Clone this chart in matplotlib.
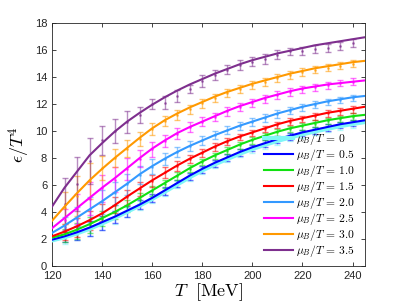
import matplotlib
matplotlib.use("Agg")
import matplotlib.pyplot as plt
import numpy as np

plt.rcParams["mathtext.fontset"] = "cm"
plt.rcParams["font.family"] = ["Liberation Sans", "DejaVu Sans"]

# fitted curves, sampled every 5 MeV
T_fit = np.arange(120, 250, 5)
fit = {
    "0":   [1.90, 2.13, 2.42, 2.76, 3.15, 3.57, 4.02, 4.48, 4.97, 5.50, 6.04, 6.58, 7.08, 7.53, 7.93, 8.32, 8.67, 8.98, 9.27, 9.52, 9.76, 9.97, 10.17, 10.36, 10.52, 10.67],
    "0.5": [1.95, 2.20, 2.50, 2.85, 3.25, 3.65, 4.10, 4.55, 5.05, 5.60, 6.15, 6.70, 7.20, 7.65, 8.05, 8.45, 8.80, 9.10, 9.40, 9.65, 9.90, 10.10, 10.30, 10.50, 10.65, 10.80],
    "1.0": [2.10, 2.35, 2.70, 3.10, 3.55, 4.00, 4.50, 5.05, 5.60, 6.15, 6.70, 7.25, 7.75, 8.20, 8.60, 9.00, 9.35, 9.65, 9.95, 10.20, 10.40, 10.60, 10.80, 10.95, 11.10, 11.20],
    "1.5": [2.20, 2.55, 2.95, 3.40, 3.90, 4.50, 5.15, 5.75, 6.35, 6.90, 7.45, 7.95, 8.40, 8.85, 9.25, 9.60, 9.90, 10.20, 10.50, 10.75, 10.95, 11.15, 11.35, 11.50, 11.65, 11.80],
    "2.0": [2.45, 3.00, 3.60, 4.20, 4.80, 5.45, 6.10, 6.80, 7.40, 7.95, 8.45, 8.90, 9.30, 9.70, 10.05, 10.40, 10.70, 11.00, 11.30, 11.55, 11.80, 12.00, 12.20, 12.35, 12.50, 12.60],
    "2.5": [2.80, 3.55, 4.30, 5.05, 5.80, 6.50, 7.25, 8.00, 8.70, 9.30, 9.85, 10.30, 10.70, 11.10, 11.50, 11.85, 12.15, 12.45, 12.70, 12.95, 13.15, 13.30, 13.45, 13.55, 13.65, 13.75],
    "3.0": [3.35, 4.40, 5.40, 6.35, 7.20, 8.00, 8.75, 9.50, 10.20, 10.80, 11.30, 11.75, 12.15, 12.55, 12.90, 13.20, 13.50, 13.75, 14.00, 14.25, 14.45, 14.65, 14.80, 14.95, 15.10, 15.20],
    "3.5": [4.40, 5.80, 7.00, 8.20, 9.10, 9.95, 10.70, 11.35, 11.95, 12.50, 13.00, 13.45, 13.85, 14.25, 14.60, 14.95, 15.25, 15.50, 15.75, 15.95, 16.15, 16.35, 16.50, 16.65, 16.80, 16.95],
}

# lattice points with error bars
T_data = np.arange(125, 245, 5)
mean = {
    "0":   [2.10, 2.40, 2.75, 3.15, 3.60, 4.00, 4.50, 4.95, 5.50, 6.05, 6.55, 7.10, 7.50, 7.95, 8.30, 8.65, 8.95, 9.25, 9.50, 9.75, 9.95, 10.15, 10.35, 10.50],
    "0.5": [2.15, 2.45, 2.80, 3.20, 3.65, 4.05, 4.55, 5.05, 5.55, 6.10, 6.65, 7.15, 7.60, 8.05, 8.40, 8.75, 9.05, 9.35, 9.60, 9.85, 10.05, 10.25, 10.45, 10.60],
    "1.0": [2.25, 2.60, 3.05, 3.50, 4.00, 4.45, 5.00, 5.55, 6.10, 6.65, 7.20, 7.70, 8.15, 8.55, 8.95, 9.30, 9.60, 9.90, 10.15, 10.35, 10.55, 10.75, 10.90, 11.05],
    "1.5": [2.50, 2.85, 3.35, 3.95, 4.55, 5.10, 5.70, 6.30, 6.95, 7.40, 7.95, 8.35, 8.80, 9.20, 9.55, 9.85, 10.15, 10.45, 10.70, 10.90, 11.10, 11.30, 11.45, 11.60],
    "2.0": [2.90, 3.50, 4.20, 4.75, 5.40, 6.05, 6.75, 7.35, 7.95, 8.45, 8.90, 9.30, 9.70, 10.05, 10.35, 10.65, 10.95, 11.25, 11.50, 11.75, 11.95, 12.15, 12.30, 12.45],
    "2.5": [3.40, 4.20, 5.00, 5.75, 6.40, 7.20, 7.95, 8.65, 9.25, 9.80, 10.30, 10.70, 11.05, 11.45, 11.80, 12.10, 12.40, 12.65, 12.90, 13.10, 13.25, 13.40, 13.55, 13.65],
    "3.0": [4.30, 5.20, 6.30, 7.25, 8.00, 8.70, 9.40, 10.15, 10.75, 11.20, 11.60, 12.05, 12.45, 12.80, 13.10, 13.40, 13.65, 13.90, 14.15, 14.35, 14.55, 14.70, 14.85, 15.00],
    "3.5": [4.60, 6.10, 7.80, 9.30, 10.00, 10.65, 11.20, 12.00, 12.10, 12.60, 13.10, 13.70, 14.15, 14.55, 14.90, 15.15, 15.35, 15.65, 15.90, 15.90, 16.10, 16.15, 16.30, 16.50],
}
err = {
    "0":   [0.45, 0.50, 0.55, 0.50, 0.45, 0.40, 0.35, 0.30, 0.30, 0.25, 0.25, 0.25, 0.25, 0.25, 0.25, 0.25, 0.25, 0.25, 0.25, 0.25, 0.25, 0.25, 0.25, 0.25],
    "0.5": [0.40, 0.50, 0.55, 0.50, 0.45, 0.40, 0.35, 0.30, 0.30, 0.25, 0.25, 0.25, 0.25, 0.25, 0.25, 0.25, 0.25, 0.25, 0.25, 0.25, 0.25, 0.25, 0.25, 0.25],
    "1.0": [0.50, 0.60, 0.60, 0.55, 0.50, 0.45, 0.40, 0.35, 0.30, 0.30, 0.25, 0.25, 0.25, 0.25, 0.25, 0.25, 0.25, 0.25, 0.25, 0.25, 0.25, 0.25, 0.25, 0.25],
    "1.5": [0.60, 0.70, 0.70, 0.65, 0.60, 0.55, 0.50, 0.45, 0.40, 0.35, 0.30, 0.30, 0.30, 0.25, 0.25, 0.25, 0.25, 0.25, 0.25, 0.25, 0.25, 0.25, 0.25, 0.25],
    "2.0": [0.70, 0.90, 0.95, 0.90, 0.85, 0.80, 0.65, 0.55, 0.45, 0.40, 0.35, 0.35, 0.30, 0.30, 0.30, 0.30, 0.30, 0.30, 0.25, 0.25, 0.25, 0.25, 0.25, 0.25],
    "2.5": [0.85, 1.10, 1.20, 1.00, 0.90, 0.80, 0.65, 0.55, 0.45, 0.40, 0.35, 0.35, 0.30, 0.30, 0.30, 0.30, 0.30, 0.30, 0.30, 0.25, 0.25, 0.25, 0.25, 0.25],
    "3.0": [1.20, 1.50, 1.30, 0.90, 0.70, 0.60, 0.50, 0.45, 0.40, 0.35, 0.35, 0.35, 0.30, 0.30, 0.30, 0.30, 0.30, 0.30, 0.30, 0.30, 0.28, 0.28, 0.28, 0.28],
    "3.5": [1.90, 2.00, 1.70, 1.05, 0.90, 0.80, 0.60, 0.40, 0.47, 0.43, 0.30, 0.43, 0.37, 0.35, 0.39, 0.35, 0.35, 0.35, 0.28, 0.30, 0.30, 0.30, 0.28, 0.28],
}

colors = {
    "0": "#7ff7f7",
    "0.5": "#0000ff",
    "1.0": "#11e011",
    "1.5": "#ff0000",
    "2.0": "#3399ff",
    "2.5": "#ff00ff",
    "3.0": "#ff9900",
    "3.5": "#7e2f8e",
}

fig = plt.figure(figsize=(4.03, 3.03), dpi=100)
ax = fig.add_axes([0.129, 0.122, 0.777, 0.802])

for key in fit:
    c = colors[key]
    ax.errorbar(T_data, mean[key], yerr=err[key], fmt=".", color=c, ms=2,
                elinewidth=1.0, capsize=2.5, capthick=1.0, alpha=0.55, zorder=2)

for key in fit:
    lw = 3.0 if key == "0" else 1.5
    ax.plot(T_fit, fit[key], color=colors[key], lw=lw, zorder=3,
            label=r"$\mu_B/T\,=\,%s$" % key)

ax.set_xlim(120, 245)
ax.set_ylim(0, 18)
ax.set_xticks(np.arange(120, 241, 20))
ax.set_yticks(np.arange(0, 19, 2))
ax.tick_params(direction="in", top=True, right=True, labelsize=8,
               colors="#262626", length=3, width=0.6)
for sp in ax.spines.values():
    sp.set_color("#262626")
    sp.set_linewidth(0.6)

ax.set_xlabel(r"$T\ \ [\mathrm{MeV}]$", fontsize=13, labelpad=0)
ax.set_ylabel(r"$\epsilon/T^4$", fontsize=13, labelpad=2)

ax.legend(loc="lower right", bbox_to_anchor=(0.99, 0.0), frameon=False,
          fontsize=8.3, labelspacing=0.0, handlelength=2.5,
          handletextpad=0.3, borderaxespad=0.2)

fig.savefig("out.png", dpi=100)
